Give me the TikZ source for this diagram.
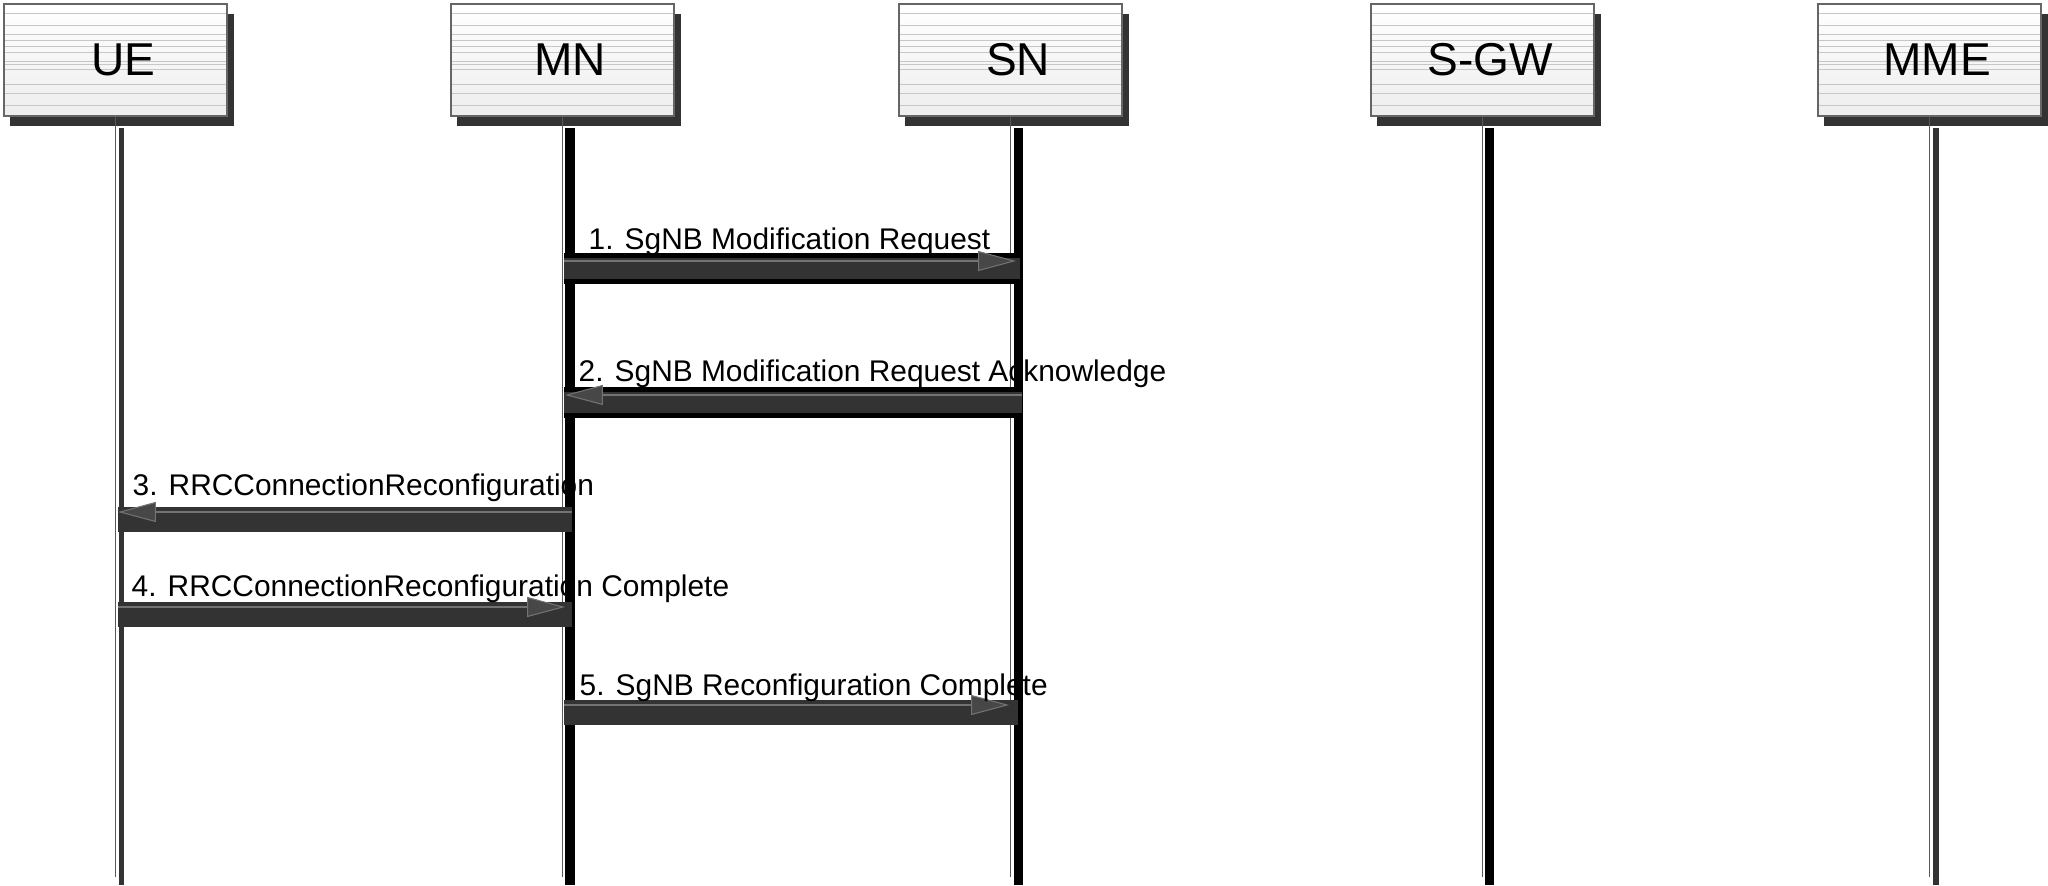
\documentclass[tikz,border=0pt]{standalone}
\usepackage{fontspec}
\setmainfont{Liberation Sans}
\usetikzlibrary{shadows,arrows.meta}
\definecolor{bargray}{HTML}{333333}
\definecolor{headgray}{HTML}{474747}
\tikzset{
  entity/.style={draw=black!60, line width=0.35pt, inner sep=0pt,
    minimum width=2.23cm, minimum height=1.12cm,
    top color=white, bottom color=black!7,
    font=\fontsize{13.1}{15}\selectfont,
    drop shadow={shadow xshift=0.065cm, shadow yshift=-0.1cm, fill=bargray, opacity=1},
    path picture={
      \foreach \s in {10,22,31,37,43,49,58,61,66,81,90,102}
        \draw[black!22, line width=0.3pt]
          ([yshift=-\s*0.01cm]path picture bounding box.north west) --
          ([yshift=-\s*0.01cm]path picture bounding box.north east);
    }},
  lifethin/.style={draw=black!65, line width=0.3pt},
  lifegray/.style={draw=bargray, line width=1.7pt},
  lifeblack/.style={draw=black, line width=2.6pt},
  msgframe/.style={draw=black, line width=8.8pt},
  msgbar/.style={draw=bargray, line width=7.1pt},
  innerbar/.style={msgbar, line width=6pt},
  msgarrow/.style={draw=black!55, line width=0.3pt,
    -{Triangle[length=10.8pt,width=5.7pt,fill=headgray]}},
  msglabel/.style={anchor=base west, inner sep=0pt, font=\fontsize{8.5}{10}\selectfont}
}
\begin{document}
\begin{tikzpicture}[x=0.01cm,y=-0.01cm]
  \useasboundingbox (0,0) rectangle (2048,886);
  \foreach \name/\lbl/\x in {ue/UE/115.5,mn/MN/562.5,sn/SN/1010.5,sgw/S-GW/1482.5,mme/MME/1929.5}{
    \node[entity] (\name) at (\x,60) {\hspace*{0.15cm}\lbl};
    \coordinate (\name-end) at (\x,877);
  }
  \foreach \name/\life/\dx in {ue/lifegray/0.06,mn/lifeblack/0.075,sn/lifeblack/0.08,sgw/lifeblack/0.07,mme/lifegray/0.06}{
    \draw[\life] ([xshift=\dx cm,yshift=-0.11cm]\name.south) -- ([xshift=\dx cm,yshift=-0.08cm]\name-end);
    \draw[lifethin] (\name) -- (\name-end);
  }

  \coordinate (m1from) at (564,261);
  \coordinate (m1to) at (1020,261);
  \draw[msgframe] ([yshift=-0.075cm]m1from) -- ([yshift=-0.075cm]m1to);
  \draw[innerbar] ([yshift=-0.075cm]m1from) -- ([yshift=-0.075cm]m1to);
  \draw[msgarrow] (m1from) -- ([xshift=-0.04cm]m1to);
  \node[msglabel] (m1label) at (588,250) {1. SgNB Modification Request};

  \coordinate (m2from) at (1022,395);
  \coordinate (m2to) at (564,395);
  \draw[msgframe] ([yshift=-0.075cm]m2from) -- ([yshift=-0.075cm]m2to);
  \draw[innerbar] ([yshift=-0.075cm]m2from) -- ([yshift=-0.075cm]m2to);
  \draw[msgarrow] (m2from) -- ([xshift=0.01cm]m2to);
  \node[msglabel] (m2label) at (578,382) {2. SgNB Modification Request Acknowledge};

  \coordinate (m3from) at (572,512);
  \coordinate (m3to) at (118,512);
  \draw[msgbar] ([yshift=-0.075cm]m3from) -- ([yshift=-0.075cm]m3to);
  \draw[msgarrow] (m3from) -- (m3to);
  \node[msglabel] (m3label) at (132,496) {3. RRCConnectionReconfiguration};

  \coordinate (m4from) at (118,607);
  \coordinate (m4to) at (572,607);
  \draw[msgbar] ([yshift=-0.075cm]m4from) -- ([yshift=-0.075cm]m4to);
  \draw[msgarrow] (m4from) -- ([xshift=-0.07cm]m4to);
  \node[msglabel] (m4label) at (131,597) {4. RRCConnectionReconfiguration Complete};

  \coordinate (m5from) at (564,705);
  \coordinate (m5to) at (1018,705);
  \draw[msgbar] ([yshift=-0.075cm]m5from) -- ([yshift=-0.075cm]m5to);
  \draw[msgarrow] (m5from) -- ([xshift=-0.09cm]m5to);
  \node[msglabel] (m5label) at (579,696) {5. SgNB Reconfiguration Complete};
\end{tikzpicture}
\end{document}
